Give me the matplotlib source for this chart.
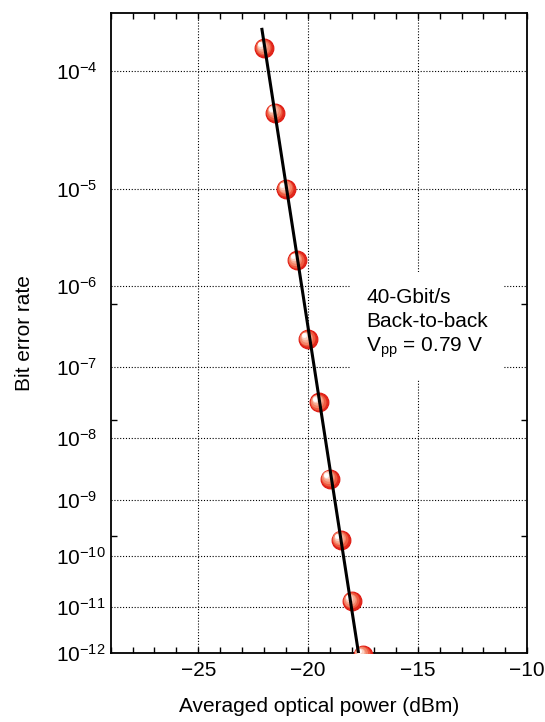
import matplotlib
matplotlib.use("Agg")
import matplotlib.pyplot as plt
import matplotlib.ticker as tkr
import matplotlib.transforms as mtrans
from matplotlib.patches import Rectangle
import numpy as np

plt.rcParams['font.family'] = ['Liberation Sans', 'DejaVu Sans']
plt.rcParams['mathtext.fontset'] = 'custom'
plt.rcParams['mathtext.rm'] = 'Liberation Sans'
plt.rcParams['mathtext.it'] = 'Liberation Sans:italic'
plt.rcParams['mathtext.bf'] = 'Liberation Sans:bold'

# measured points (40-Gbit/s back-to-back)
power_dbm = [-22.0, -21.5, -21.0, -20.5, -20.0, -19.5, -19.0, -18.5, -18.0, -17.5]
ber = [1.47e-4, 4.7e-5, 1.0e-5, 1.9e-6, 2.3e-7, 3.3e-8, 2.3e-9, 2.0e-10, 1.3e-11, 8.9e-13]

# fitted line end points
fit_dbm = [-22.1, -17.7]
fit_ber = [2.0e-4, 1.0e-12]

ber_ticks = [1e-4, 1e-5, 1e-6, 1e-7, 1e-8, 1e-9, 1e-10, 1e-11, 1e-12]
ber_minor = [10**-6.213, 10**-7.733, 10**-9.627]


def fwd(b):
    b = np.clip(np.asarray(b, dtype=float), 1e-300, 0.999999)
    return -np.log10(-np.log10(b))


def inv(f):
    return 10 ** (-10 ** (-np.asarray(f, dtype=float)))


def ber_fmt(v, pos):
    return r'$10^{%d}$' % int(round(np.log10(v)))


FS = 15

fig = plt.figure(figsize=(5.45, 7.22), dpi=100)
ax = fig.add_axes([0.203, 0.096, 0.7645, 0.8856])

ax.set_yscale('function', functions=(fwd, inv))
ax.set_xlim(-29, -10)
ax.set_ylim(1e-12, 2.58e-4)

ax.set_axisbelow(True)
ax.grid(True, which='major', color='black', linestyle=(0, (1, 1.6)), linewidth=0.8)

# white box behind the annotation
ax.add_patch(Rectangle((0.575, 0.4265), 0.369, 0.1685, transform=ax.transAxes,
                       facecolor='white', edgecolor='none', zorder=1))

# sphere-like markers: stacked circles shifted to upper left
layers = [(13.5, '#e02a1c'), (11.5, '#ee5a40'), (9.5, '#f48468'),
          (7.5, '#f8aa92'), (5.5, '#fcd2c4'), (3.5, '#ffffff')]
for i, (ms, col) in enumerate(layers):
    d = (13.5 - ms) * 0.28
    tr = mtrans.offset_copy(ax.transData, fig=fig, x=-d, y=d, units='points')
    ax.plot(power_dbm, ber, linestyle='none', marker='o', markersize=ms,
            markerfacecolor=col, markeredgecolor='#e01810' if i == 0 else col,
            markeredgewidth=0.8 if i == 0 else 0, transform=tr, zorder=4 + i)
ax.plot(fit_dbm, fit_ber, color='black', linewidth=2.2, zorder=20)

ax.xaxis.set_major_locator(tkr.MultipleLocator(5))
ax.xaxis.set_minor_locator(tkr.MultipleLocator(1))
ax.yaxis.set_major_locator(tkr.FixedLocator(ber_ticks))
ax.yaxis.set_minor_locator(tkr.FixedLocator(ber_minor))
ax.yaxis.set_major_formatter(tkr.FuncFormatter(ber_fmt))
ax.yaxis.set_minor_formatter(tkr.NullFormatter())

ax.tick_params(axis='x', which='both', direction='in', top=True, bottom=True,
               length=4.5, width=1.0, labelsize=FS, pad=6)
ax.tick_params(axis='y', which='major', length=0, labelsize=FS, pad=39)
ax.tick_params(axis='y', which='minor', direction='in', left=True, right=True,
               length=4, width=1.0)
for lab in ax.get_yticklabels():
    lab.set_horizontalalignment('left')

for sp in ax.spines.values():
    sp.set_linewidth(1.3)

ax.set_xlabel('Averaged optical power (dBm)', fontsize=FS)
ax.xaxis.set_label_coords(0.5, -0.069)
ax.xaxis.label.set_verticalalignment('top')
ax.set_ylabel('Bit error rate', fontsize=FS)
ax.yaxis.set_label_coords(-0.184, 0.5)

ax.text(0.613, 0.571, '40-Gbit/s\nBack-to-back\nV$_{\\rm pp}$ = 0.79 V',
        transform=ax.transAxes, fontsize=FS, va='top', ha='left',
        linespacing=1.33, zorder=25)

fig.savefig('out.png', dpi=100)
